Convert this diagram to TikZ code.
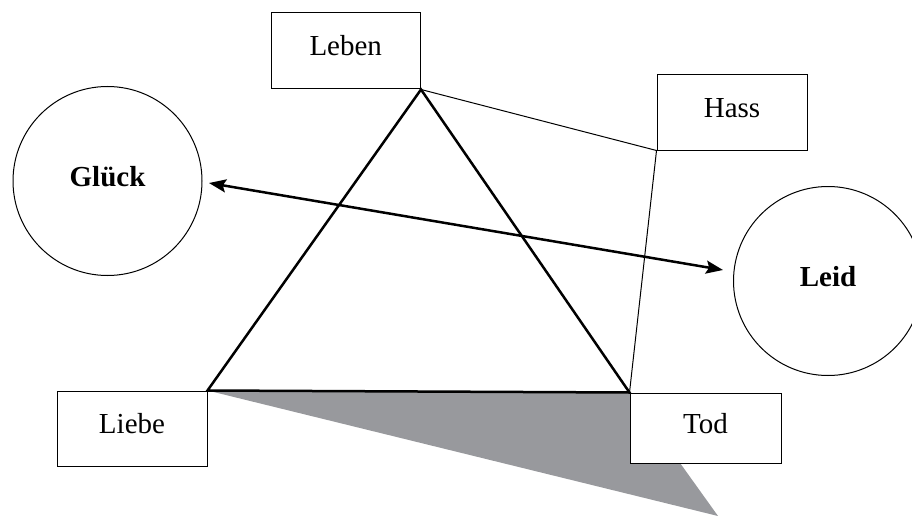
\documentclass[tikz,border=0pt]{standalone}
\usepackage{fontspec}
\setmainfont{Liberation Serif}
\usetikzlibrary{arrows.meta,backgrounds}
\definecolor{shadowgray}{RGB}{152,153,157}
\tikzset{
  termbox/.style={draw=black, line width=1pt, fill=white, rectangle,
    inner sep=0pt, minimum width=#1, text height=20pt, text depth=10pt,
    font=\fontsize{29}{34}\selectfont},
  termbox/.default=150pt,
  bigcircle/.style={draw=black, line width=1pt, circle, inner sep=0pt,
    minimum size=189pt, text height=20pt, text depth=10pt,
    font=\fontsize{29}{34}\selectfont\bfseries},
  heavy/.style={line width=2.5pt, line join=miter},
  thin/.style={line width=1pt},
}
\begin{document}
\begin{tikzpicture}[x=1pt, y=-1pt]
  \useasboundingbox (0,0) rectangle (912,516);
  \clip (0,0) rectangle (912,516);

  % corner boxes of the triangle
  \node[termbox=149.5pt, minimum height=76pt] (leben) at (345.75,51) {Leben};
  \node[termbox=150pt, minimum height=75pt] (hass) at (732,112.5) {Hass};
  \node[termbox=150pt, minimum height=75pt] (liebe) at (132,428.5) {Liebe};
  \node[termbox=151pt, minimum height=70pt] (tod) at (705.5,428) {Tod};

  % shadow below the base, behind the boxes
  \coordinate (shadowtip) at (718,516);
  \begin{scope}[on background layer]
    \fill[shadowgray] (liebe.north east) -- (tod.north west) -- (shadowtip) -- cycle;
  \end{scope}

  % the triangle
  \draw[heavy] (liebe.north east) -- (leben.south east) -- (tod.north west) -- cycle;

  % thin path through Hass
  \draw[thin] (leben.south east) -- (hass.south west) -- (tod.north west);

  % circles
  \node[bigcircle] (gluck) at (107.5,181) {Glück};
  \node[bigcircle] (leid) at (828,281) {Leid};

  % double arrow between the circles
  \coordinate (gluckend) at (209,183);
  \coordinate (leidend) at (723,270);
  \draw[line width=2.5pt, {Stealth[length=17pt,width=13pt,inset=3pt]}-{Stealth[length=17pt,width=13pt,inset=3pt]}]
    (gluckend) -- (leidend);
\end{tikzpicture}
\end{document}
